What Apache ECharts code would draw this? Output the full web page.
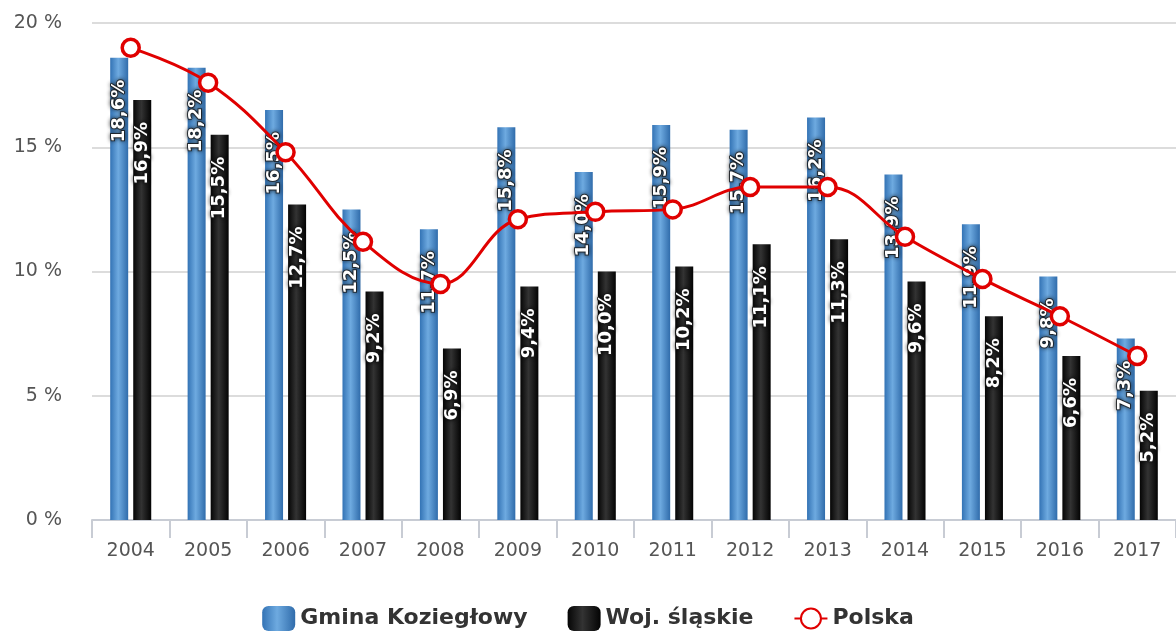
<!DOCTYPE html>
<html><head><meta charset="utf-8">
<script src="https://cdn.jsdelivr.net/npm/echarts@6/dist/echarts.min.js"></script>
<style>html,body{margin:0;padding:0;background:#fff}#c{width:1176px;height:631px}</style>
</head><body><div id="c"></div>
<script>
const years = ['2004','2005','2006','2007','2008','2009','2010','2011','2012','2013','2014','2015','2016','2017'];
const gmina = [18.6,18.2,16.5,12.5,11.7,15.8,14.0,15.9,15.7,16.2,13.9,11.9,9.8,7.3];
const slaskie = [16.9,15.5,12.7,9.2,6.9,9.4,10.0,10.2,11.1,11.3,9.6,8.2,6.6,5.2];
const polska = [19.0,17.6,14.8,11.2,9.5,12.1,12.4,12.5,13.4,13.4,11.4,9.7,8.2,6.6];
const yTicks = [0,5,10,15,20];

const chart = echarts.init(document.getElementById('c'));
const fmt = p => p.value.toFixed(1).replace('.', ',') + '%';
const barLabel = {
  show: true, position: 'insideTop', distance: 22, rotate: 90, align: 'right', verticalAlign: 'middle',
  formatter: fmt, color: '#fff', fontWeight: 'bold', fontSize: 18, fontFamily: 'DejaVu Sans',
  textBorderColor: 'rgba(30,30,30,0.8)', textBorderWidth: 2,
  textShadowColor: 'rgba(0,0,0,0.6)', textShadowBlur: 4
};
const blueGrad = new echarts.graphic.LinearGradient(0,0,1,0,[
  {offset:0,color:'#3373b5'},{offset:0.45,color:'#6eaae0'},{offset:1,color:'#306cab'}]);
const blackGrad = new echarts.graphic.LinearGradient(0,0,1,0,[
  {offset:0,color:'#050505'},{offset:0.45,color:'#333333'},{offset:1,color:'#030303'}]);

chart.setOption({
  animation: false,
  grid: {left: 92, right: 0, top: 23, bottom: 111},
  legend: {
    top: 601, left: 'center', itemWidth: 33, itemHeight: 25, itemGap: 40,
    textStyle: {fontSize: 22, fontWeight: 'bold', color: '#333', fontFamily: 'DejaVu Sans'},
    data: [
      {name: 'Gmina Koziegłowy', itemStyle: {color: blueGrad}},
      {name: 'Woj. śląskie', itemStyle: {color: blackGrad}},
      {name: 'Polska'}
    ]
  },
  xAxis: {
    type: 'category', data: years, boundaryGap: true,
    axisLine: {lineStyle: {color: '#c8ccd4', width: 2}},
    axisTick: {show: true, length: 18, lineStyle: {color: '#c8ccd4', width: 2}},
    axisLabel: {fontSize: 19, color: '#555', margin: 22, fontFamily: 'DejaVu Sans'}
  },
  yAxis: {
    type: 'value', min: 0, max: 20, interval: 5,
    axisLabel: {fontSize: 19, color: '#555', margin: 30, fontFamily: 'DejaVu Sans',
      formatter: v => yTicks.includes(v) ? v + ' %' : ''},
    splitLine: {lineStyle: {color: '#dcdcdc', width: 2}},
    axisLine: {show: false}, axisTick: {show: false}
  },
  series: [
    {name: 'Gmina Koziegłowy', type: 'bar', data: gmina, barWidth: 18, barGap: '28%',
      itemStyle: {color: blueGrad}, label: barLabel},
    {name: 'Woj. śląskie', type: 'bar', data: slaskie, barWidth: 18,
      itemStyle: {color: blackGrad}, label: barLabel},
    {name: 'Polska', type: 'line', data: polska, smooth: 0.4, symbol: 'circle', symbolSize: 17,
      lineStyle: {color: '#e00000', width: 3}, z: 5,
      itemStyle: {color: '#fff', borderColor: '#e00000', borderWidth: 3.5}}
  ]
});
</script></body></html>
